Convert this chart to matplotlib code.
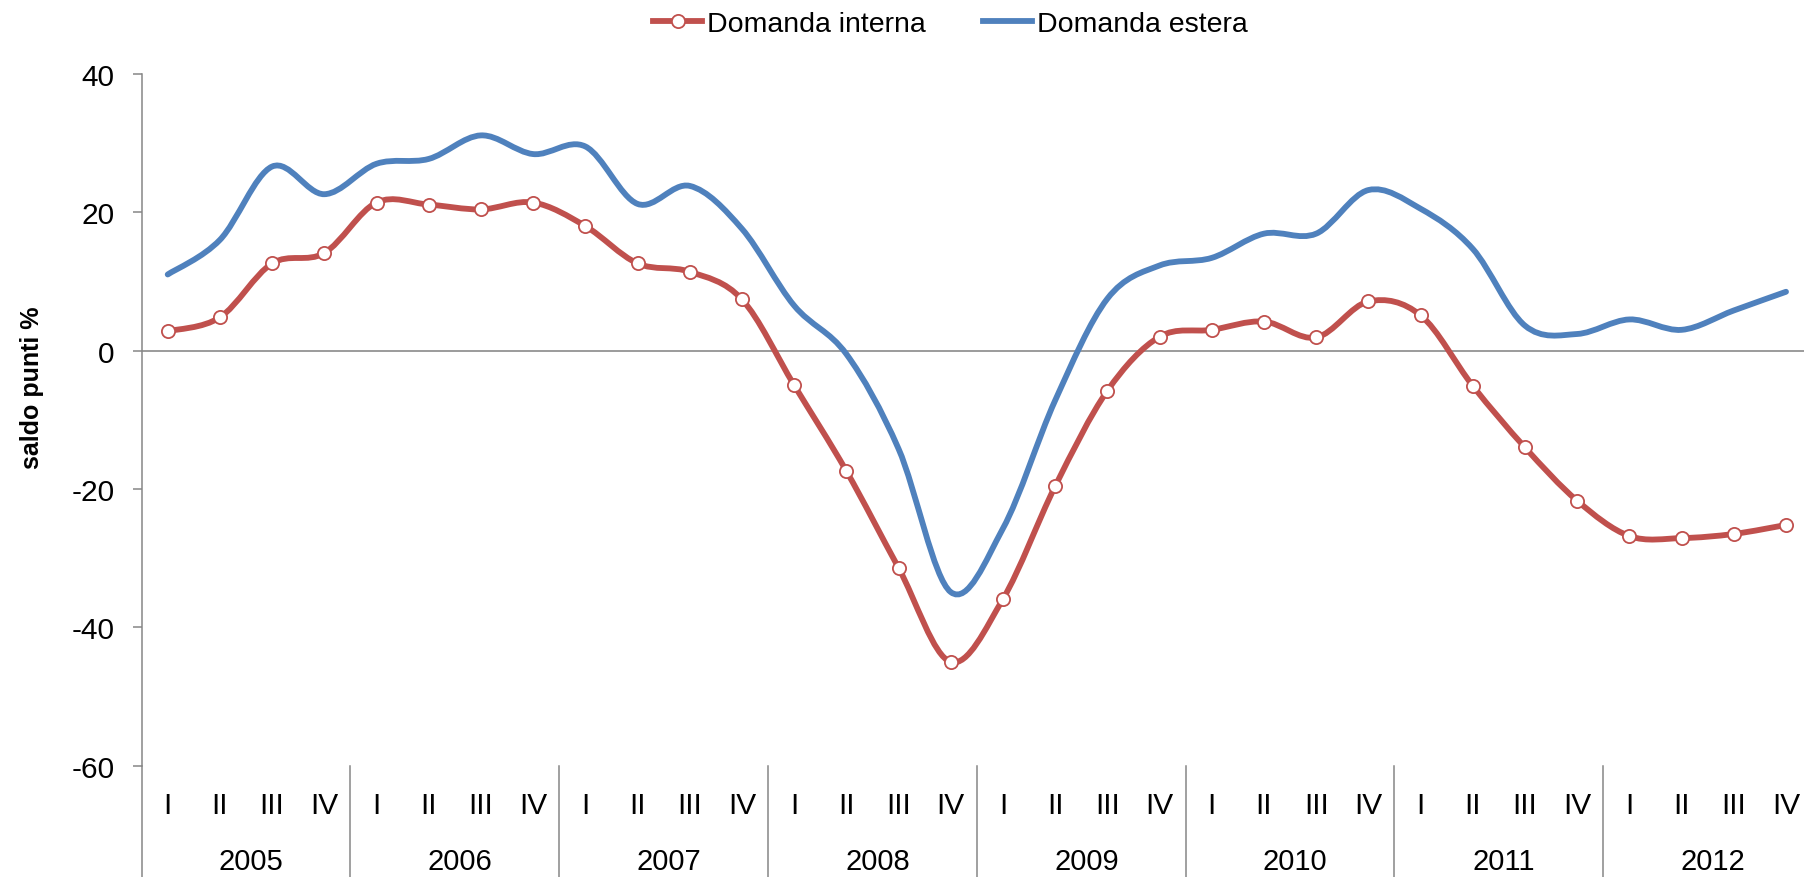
import numpy as np
import matplotlib
matplotlib.use("Agg")
import matplotlib.pyplot as plt
import matplotlib.transforms as mtransforms
from matplotlib.path import Path
from matplotlib.patches import PathPatch
from matplotlib.lines import Line2D

plt.rcParams['font.family'] = ['Liberation Sans', 'DejaVu Sans']
plt.rcParams['axes.unicode_minus'] = False

years = ['2005', '2006', '2007', '2008', '2009', '2010', '2011', '2012']
quarters = ['I', 'II', 'III', 'IV']

domanda_interna = [2.8, 4.8, 12.6, 14.1, 21.4, 21.1, 20.4, 21.4,
                   18.0, 12.6, 11.4, 7.4, -5.0, -17.4, -31.4, -45.0,
                   -35.9, -19.6, -5.8, 2.0, 3.0, 4.2, 1.9, 7.1,
                   5.1, -5.1, -14.0, -21.7, -26.8, -27.1, -26.5, -25.2]
domanda_estera = [11.0, 16.0, 26.6, 22.6, 27.0, 27.7, 31.1, 28.4,
                  29.5, 21.2, 23.8, 17.6, 6.5, -0.5, -14.2, -34.9,
                  -25.7, -7.2, 7.5, 12.3, 13.4, 16.9, 16.9, 23.2,
                  20.5, 14.7, 3.6, 2.4, 4.5, 3.0, 5.8, 8.5]

RED = '#C0504D'
BLUE = '#4F81BD'
GRAY = '#868686'
LW = 4.2
MS = 9.5


def smooth_path(x, y):
    # Excel-style smoothed line: cubic Bezier through every point
    pts = np.column_stack([x, y]).astype(float)
    ext = np.vstack([pts[0], pts, pts[-1]])
    verts = [pts[0]]
    codes = [Path.MOVETO]
    for i in range(len(pts) - 1):
        p0, p1, p2, p3 = ext[i], ext[i + 1], ext[i + 2], ext[i + 3]
        verts += [p1 + (p2 - p0) / 6, p2 - (p3 - p1) / 6, p2]
        codes += [Path.CURVE4] * 3
    return Path(verts, codes)


fig = plt.figure(figsize=(18.04, 8.78), dpi=100)
ax = fig.add_axes([0.0785, 0.1267, 0.926, 0.7881])

x = np.arange(len(domanda_interna))

ax.add_patch(PathPatch(smooth_path(x, domanda_estera), facecolor='none',
                       edgecolor=BLUE, lw=LW, capstyle='round', zorder=3))
ax.add_patch(PathPatch(smooth_path(x, domanda_interna), facecolor='none',
                       edgecolor=RED, lw=LW, capstyle='round', zorder=4))
ax.plot(x, domanda_interna, 'o', ms=MS, mfc='white', mec=RED, mew=1.3, zorder=5)

ax.axhline(0, color='#808080', lw=1.1, zorder=2)

ax.set_xlim(-0.5, len(x) - 0.5)
ax.set_ylim(-60, 40)
ax.set_yticks([-60, -40, -20, 0, 20, 40])
ax.tick_params(axis='y', direction='out', length=6.5, width=1.1, color=GRAY,
               labelsize=21.5, pad=13)
ax.set_xticks([])

for side in ['top', 'right', 'bottom']:
    ax.spines[side].set_visible(False)
ax.spines['left'].set_color(GRAY)
ax.spines['left'].set_linewidth(1.1)

# category axis: quarters, years and separators below the plot
trans = mtransforms.blended_transform_factory(ax.transData, ax.transAxes)
for i in range(len(x)):
    ax.text(i, -0.057, quarters[i % 4], transform=trans, ha='center',
            va='center', fontsize=21.5)
for k, yr in enumerate(years):
    ax.text(4 * k + 1.6, -0.138, yr, transform=trans, ha='center',
            va='center', fontsize=21)
for k in range(len(years) + 1):
    ax.plot([4 * k - 0.5, 4 * k - 0.5], [0, -0.2], transform=trans,
            color=GRAY, lw=1.1, clip_on=False)

fig.text(0.018, 0.558, 'saldo punti %', rotation=90, ha='center',
         va='center', fontsize=18, fontweight='bold')

handles = [Line2D([], [], color=RED, lw=LW, marker='o', ms=MS,
                  mfc='white', mec=RED, mew=1.3),
           Line2D([], [], color=BLUE, lw=LW)]
fig.legend(handles, ['Domanda interna', 'Domanda estera'], loc='center',
           bbox_to_anchor=(0.527, 0.972), ncol=2, frameon=False, fontsize=20.5,
           handlelength=1.7, handletextpad=0.2, columnspacing=2.0)

fig.savefig('out.png', dpi=100)
